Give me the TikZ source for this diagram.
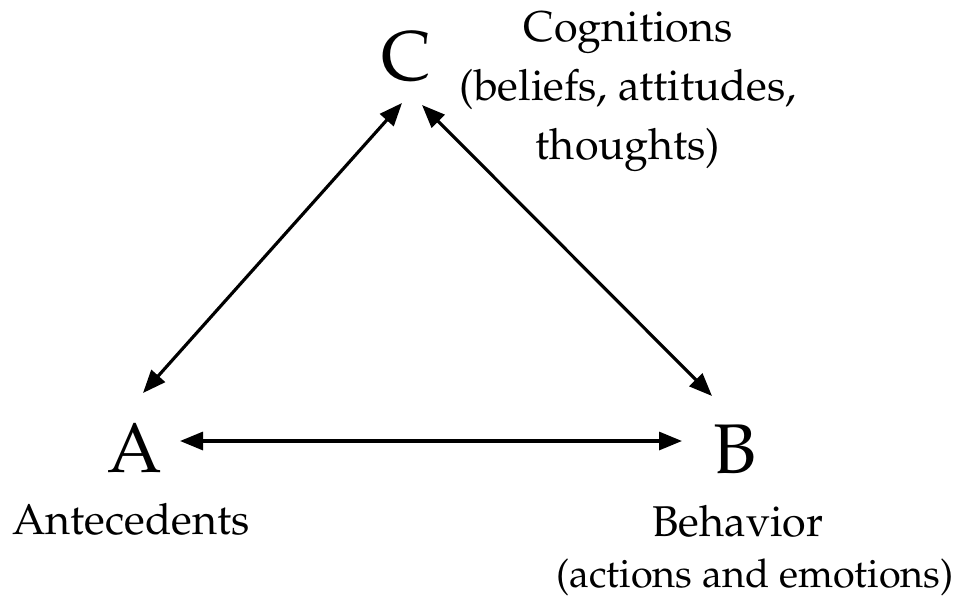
\documentclass[tikz,border=0pt]{standalone}
\usepackage[T1]{fontenc}
\usepackage{mathpazo}
\usetikzlibrary{arrows.meta}
\begin{document}
\begin{tikzpicture}[x=0.02cm,y=-0.02cm,
  letter/.style={inner sep=0pt,font=\fontsize{40}{40}\selectfont},
  lbl/.style={inner sep=0pt,align=center,font=\fontsize{24.5}{33.6}\selectfont},
  link/.style={line width=1.8pt,{Triangle[length=0.46cm,width=0.36cm]}-{Triangle[length=0.46cm,width=0.36cm]}}]
\useasboundingbox (0,0) rectangle (955,601);
\node[letter] (C) at (406,57) {C};
\node[letter] (A) at (135,448) {A};
\node[letter] (B) at (735,449) {B};
\node[lbl] (cog) at (628,92) {Cognitions\\(beliefs, attitudes,\\thoughts)};
\node[lbl] (ant) at (131,519) {Antecedents};
\node[lbl] (beh) at (738,521) {Behavior};
\node[lbl,font=\fontsize{22.5}{30}\selectfont] (act) at (755,577) {(actions and emotions)};
\draw[link] ([shift={(-4,46)}]C.center) -- ([shift={(8,-55)}]A.center);
\draw[link] ([shift={(16,48)}]C.center) -- ([shift={(-23,-53)}]B.center);
\draw[link] ([shift={(45,-7)}]A.center) -- ([shift={(-53,-8)}]B.center);
\end{tikzpicture}
\end{document}
